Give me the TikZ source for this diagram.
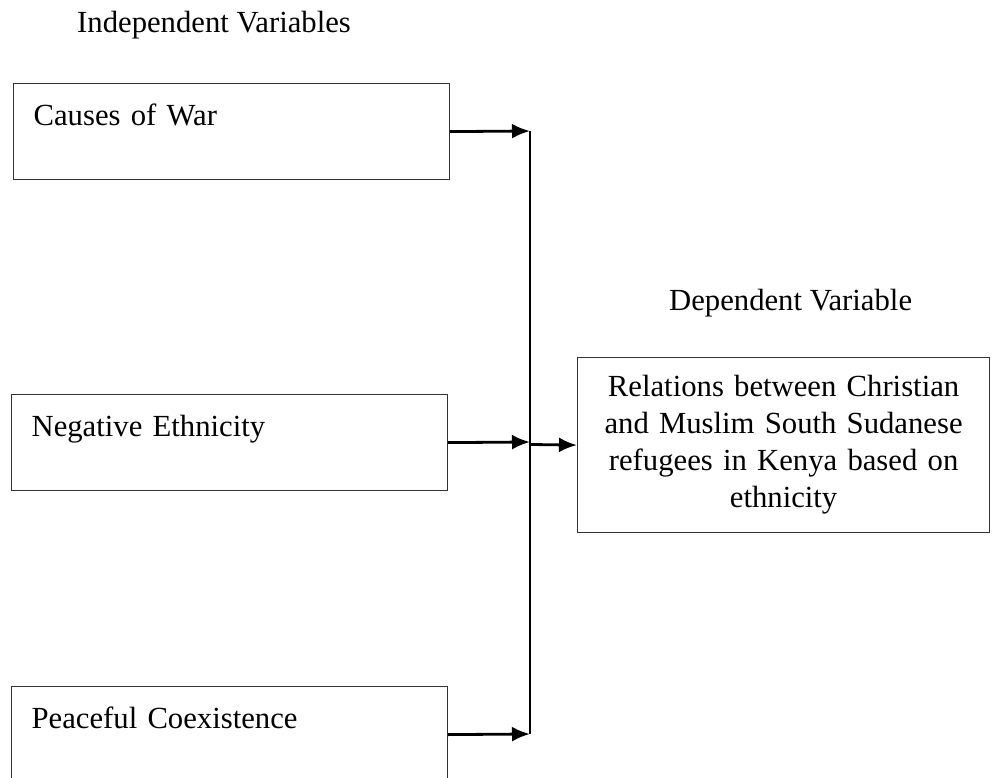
\documentclass[tikz,border=0pt]{standalone}
\usepackage{fontspec}
\setmainfont{Liberation Serif}
\usetikzlibrary{arrows.meta,positioning}
\tikzset{
  varbox/.style={draw=black!80, line width=1.2pt, anchor=north west, minimum width=436pt, minimum height=96pt, text width=396pt, inner xsep=20pt, align=left, text height=22pt, text depth=34pt, font=\fontsize{30.7}{37}\selectfont},
  depbox/.style={draw=black!80, line width=1.2pt, anchor=north west, minimum width=412pt, minimum height=175pt, text width=392pt, inner xsep=10pt, align=center, font=\fontsize{30.7}{37}\selectfont},
  heading/.style={inner sep=0pt, font=\fontsize{30.7}{37}\selectfont},
  arrow/.style={-{Latex[length=18pt,width=15pt]}, line width=2.8pt},
  busline/.style={line width=2.2pt}
}
\begin{document}
\begin{tikzpicture}[x=1pt, y=-1pt, node distance=40pt]
\useasboundingbox (0,0) rectangle (999,778);
\clip (0,0) rectangle (999,778);
\node[heading, anchor=base west] (indep) at (77,33) {Independent Variables};
\node[varbox] (war) at (13,83) {Causes of War};
\node[varbox] (ethnic) at (11,394) {Negative Ethnicity};
\node[varbox] (peace) at (11,686) {Peaceful Coexistence};
\node[depbox] (rel) at (577,357) {Relations between Christian\\and Muslim South Sudanese\\refugees in Kenya based on\\ethnicity};
\node[heading, anchor=south, above=of rel, xshift=7pt] (dep) {Dependent Variable};
\coordinate (jwar) at (530,131);
\coordinate (jethnic) at (530,442);
\coordinate (jpeace) at (530,734);
\coordinate (jout) at (531,444.5);
\draw[busline] (jwar) -- (jpeace);
\draw[arrow] (war.east) -- (jwar);
\draw[arrow] (ethnic.east) -- (jethnic);
\draw[arrow] (peace.east) -- (jpeace);
\draw[arrow] (jout) -- (rel.west);
\end{tikzpicture}
\end{document}
